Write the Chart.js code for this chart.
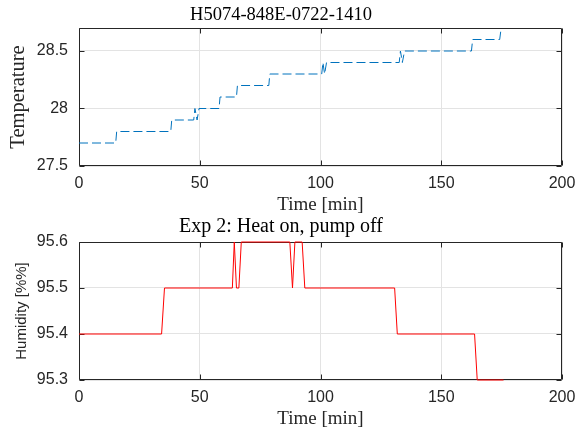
<!DOCTYPE html>
<html>
<head>
<meta charset="utf-8">
<script src="https://cdn.jsdelivr.net/npm/chart.js@4/dist/chart.umd.min.js"></script>
<style>
  html, body { margin: 0; padding: 0; background: #fff; }
  #wrap { position: relative; width: 577px; height: 432px; }
  canvas { position: absolute; left: 0; }
</style>
</head>
<body>
<div id="wrap">
  <canvas id="c1" width="577" height="216" style="top:0"></canvas>
  <canvas id="c2" width="577" height="216" style="top:216px"></canvas>
</div>
<script>
// ---- data ----
const tempTime = [0, 15.2, 15.6, 38.0, 38.4, 47.5, 48.0, 48.9, 49.7, 58.0, 58.4, 65.2, 65.6, 78.6, 79.0,
                  100.5, 101.0, 101.7, 102.5, 132.6, 133.1, 133.9, 134.8, 162.5, 163.0, 174.2, 174.8];
const tempValue = [27.7, 27.7, 27.8, 27.8, 27.9, 27.9, 28.0, 27.9, 28.0, 28.0, 28.1, 28.1, 28.2, 28.2, 28.3,
                   28.3, 28.4, 28.3, 28.4, 28.4, 28.5, 28.4, 28.5, 28.5, 28.6, 28.6, 28.7];
const humTime = [0, 34.2, 35.4, 63.5, 64.3, 65.2, 66.2, 67.2, 87.3, 88.4, 89.4, 92.4, 93.5, 130.7, 131.8, 163.8, 164.9, 175.8];
const humValue = [95.4, 95.4, 95.5, 95.5, 95.6, 95.5, 95.5, 95.6, 95.6, 95.5, 95.6, 95.6, 95.5, 95.5, 95.4, 95.4, 95.3, 95.3];
const xTicks = [0, 50, 100, 150, 200];
const tempTicks = [27.5, 28, 28.5];
const humTicks = [95.3, 95.4, 95.5, 95.6];
const titleTop = 'H5074-848E-0722-1410';
const titleBottom = 'Exp 2: Heat on, pump off';
const xLabel = 'Time [min]';
const yLabelTop = 'Temperature';
const yLabelBottom = 'Humidity [%%]';

const SERIF = '"Liberation Serif", "Times New Roman", serif';
const SANS = '"Liberation Sans", Arial, sans-serif';
const FRAME = '#262626';
const GRID = '#e3e3e3';

const framePlugin = {
  id: 'frame',
  beforeDatasetsDraw(chart) {
    const ctx = chart.ctx;
    const a = chart.chartArea;
    const L = Math.round(a.left) + 0.5, R = Math.round(a.right) - 0.5;
    const T = Math.round(a.top) + 0.5, B = Math.round(a.bottom) - 0.5;
    ctx.save();
    ctx.strokeStyle = FRAME;
    ctx.lineWidth = 1;
    ctx.beginPath();
    ctx.rect(L, T, R - L, B - T);
    const tl = 5;
    const xs = chart.scales.x, ys = chart.scales.y;
    xs.ticks.forEach(t => {
      const px = Math.round(xs.getPixelForValue(t.value)) + 0.5;
      ctx.moveTo(px, B); ctx.lineTo(px, B - tl);
      ctx.moveTo(px, T); ctx.lineTo(px, T + tl);
    });
    ys.ticks.forEach(t => {
      const py = Math.round(ys.getPixelForValue(t.value)) + 0.5;
      ctx.moveTo(L, py); ctx.lineTo(L + tl, py);
      ctx.moveTo(R, py); ctx.lineTo(R - tl, py);
    });
    ctx.stroke();
    ctx.restore();
  }
};

function makeChart(id, cfg) {
  const pts = cfg.times.map((t, i) => ({ x: t, y: cfg.values[i] }));
  return new Chart(document.getElementById(id), {
    type: 'line',
    data: {
      datasets: [{
        data: pts,
        borderColor: cfg.color,
        borderWidth: 1,
        borderDash: cfg.dash,
        pointRadius: 0,
        tension: 0,
        fill: false,
        clip: 2
      }]
    },
    options: {
      responsive: false,
      animation: false,
      devicePixelRatio: 1,
      layout: { padding: { left: 0, right: 15, top: 0, bottom: 0 } },
      plugins: {
        legend: { display: false },
        tooltip: { enabled: false },
        title: {
          display: true,
          text: cfg.title,
          color: '#000',
          font: { family: SERIF, size: cfg.titleSize, weight: 'normal' },
          padding: cfg.titlePad
        }
      },
      scales: {
        x: {
          type: 'linear',
          min: 0, max: 200,
          afterBuildTicks: s => { s.ticks = xTicks.map(v => ({ value: v })); },
          afterFit: s => { s.height = cfg.xHeight; s.paddingLeft = 0; s.paddingRight = 0; },
          grid: { color: GRID, drawTicks: false },
          border: { display: false },
          ticks: { color: '#262626', font: { family: SANS, size: 16 }, padding: 8, maxRotation: 0,
                   callback: v => String(v) },
          title: { display: true, text: xLabel, color: '#262626',
                   font: { family: SERIF, size: 19 }, padding: { top: 0, bottom: cfg.xTitlePad } }
        },
        y: {
          type: 'linear',
          min: cfg.ymin, max: cfg.ymax,
          afterBuildTicks: s => { s.ticks = cfg.yTicks.map(v => ({ value: v })); },
          afterFit: s => { s.width = 79; s.paddingTop = 0; s.paddingBottom = 0; },
          grid: { color: GRID, drawTicks: false },
          border: { display: false },
          ticks: { color: '#262626', font: { family: SANS, size: 16 }, padding: 11,
                   callback: v => String(v) },
          title: { display: true, text: cfg.yLabel, color: '#262626',
                   font: cfg.yFont, padding: { top: cfg.yTitlePad, bottom: 0 } }
        }
      }
    },
    plugins: [framePlugin]
  });
}

makeChart('c1', {
  times: tempTime, values: tempValue, color: '#0072BD', dash: [9, 4],
  title: titleTop, titleSize: 18.5, titlePad: { top: 3.6, bottom: 2.2 },
  xHeight: 50, xTitlePad: -0.9,
  ymin: 27.5, ymax: 28.7, yTicks: tempTicks,
  yLabel: yLabelTop, yFont: { family: SERIF, size: 20.5 }, yTitlePad: 6.2
});

makeChart('c2', {
  times: humTime, values: humValue, color: '#ff0000', dash: [],
  title: titleBottom, titleSize: 20, titlePad: { top: -1, bottom: 3 },
  xHeight: 52, xTitlePad: 1.1,
  ymin: 95.3, ymax: 95.6, yTicks: humTicks,
  yLabel: yLabelBottom, yFont: { family: SANS, size: 15 }, yTitlePad: 13
});
</script>
</body>
</html>
